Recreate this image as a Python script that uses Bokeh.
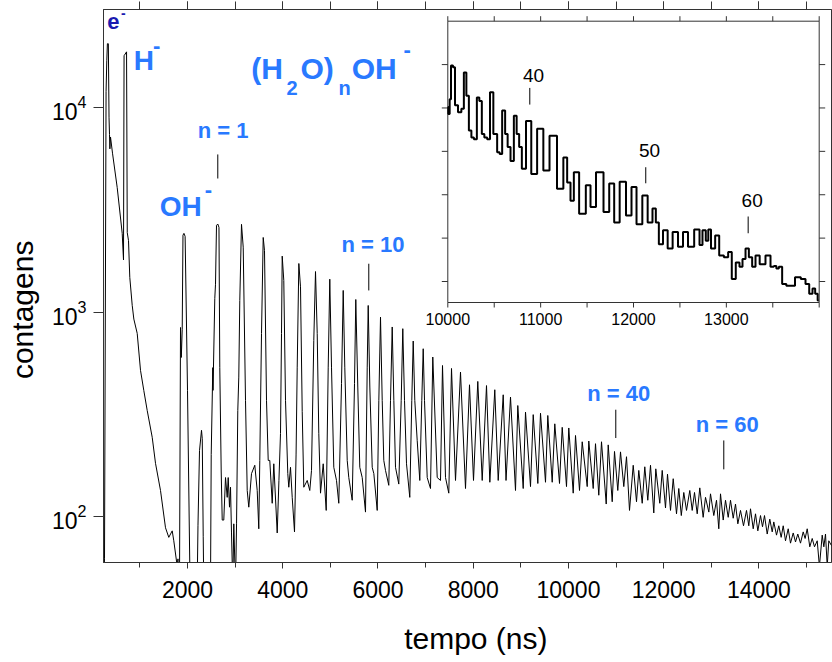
import numpy as np
from bokeh.plotting import figure
from bokeh.models import (Range1d, LinearScale, Label, LinearAxis,
                          SingleIntervalTicker, FixedTicker)
from bokeh.embed import file_html
from bokeh.resources import INLINE
from bokeh.core.properties import value

FONT = "Liberation Sans"
BLUE = "#2979ff"
DARK_BLUE = "#1a1ab0"
NBSP = "\u00a0"

# ---------------- data (time in ns, counts) ----------------
# e- and H- peaks with the electron tail
lead_pts = [(245, 50), (257, 62), (290, 12000), (305, 17000), (318, 20600), (338, 20600),
            (352, 9000), (362, 7400), (370, 6300), (383, 7200), (425, 6000), (524, 4070),
            (629, 2430), (656, 1800), (668, 18000), (720, 18800), (735, 2450), (761, 2240),
            (788, 1480), (839, 1080), (873, 925), (944, 787), (1013, 519), (1082, 414),
            (1154, 330), (1259, 244), (1328, 182), (1433, 134), (1538, 88), (1607, 79),
            (1679, 85), (1712, 76), (1784, 57), (1800, 62), (1815, 45)]

# OH-, small intermediate peak, n = 1 and the noisy floor up to n = 2
ion_pts = [(1832, 45), (1853, 841), (1870, 600), (1889, 820), (1905, 2380), (1925, 2430),
           (1950, 2350), (2000, 414), (2048, 58), (2060, 45), (2203, 45), (2220, 90),
           (2252, 210), (2294, 264), (2310, 240), (2330, 80), (2342, 45), (2400, 45),
           (2483, 45), (2498, 201), (2531, 535), (2536, 414), (2573, 1167), (2588, 1370),
           (2609, 2660), (2636, 2700), (2661, 2600), (2678, 535), (2708, 165), (2729, 96),
           (2762, 96), (2798, 155), (2834, 124), (2855, 155), (2882, 111), (2903, 139),
           (2924, 83), (2951, 45), (2972, 92), (3008, 45), (3030, 92), (3056, 330),
           (3077, 481), (3098, 1140)]

# (H2O)nOH- cluster peak tops, n = 2 ... 82
peak_pts = [(3134, 2690), (3590, 2320), (3989, 1880), (4338, 1730), (4688, 1580),
            (4988, 1450), (5270, 1277), (5534, 1153), (5795, 1078), (6053, 945),
            (6299, 846), (6521, 830), (6740, 722), (6950, 662), (7151, 603),
            (7355, 548), (7544, 530), (7733, 509), (7922, 441), (8096, 458),
            (8279, 437), (8453, 417), (8630, 394), (8783, 384), (8936, 349),
            (9098, 324), (9260, 315), (9413, 320), (9566, 312), (9713, 284),
            (9869, 273), (10007, 271), (10148, 249), (10289, 232), (10427, 234),
            (10568, 227), (10694, 232), (10835, 224), (10967, 208), (11093, 207),
            (11219, 196), (11360, 178), (11477, 168), (11603, 175), (11723, 178),
            (11834, 171), (11969, 168), (12080, 161), (12200, 153), (12317, 137),
            (12422, 131), (12548, 134), (12647, 131), (12758, 138), (12878, 124),
            (12983, 129), (13109, 120), (13193, 129), (13298, 120), (13403, 120),
            (13508, 115), (13613, 107), (13739, 107), (13823, 109), (13928, 103),
            (14033, 101), (14117, 101), (14228, 97), (14312, 94), (14417, 90),
            (14510, 90), (14615, 87), (14720, 83), (14816, 82), (14930, 84),
            (15014, 87), (15119, 78), (15224, 76), (15329, 81), (15398, 82),
            (15467, 76)]

# flanks and valley floor between the cluster peaks
base_pts = [(3170, 2080), (3218, 370), (3254, 134), (3287, 111), (3344, 162), (3413, 178),
            (3464, 134), (3497, 87), (3518, 188), (3554, 786), (3617, 2000), (3659, 370),
            (3695, 188), (3728, 188), (3779, 116), (3812, 181), (3884, 83), (3920, 150),
            (3953, 255), (3974, 786), (4022, 1430), (4058, 370), (4106, 162), (4127, 139),
            (4163, 174), (4199, 124), (4247, 84), (4280, 200), (4304, 538), (4373, 1330),
            (4409, 327), (4442, 139), (4514, 150), (4568, 134), (4604, 168), (4652, 727),
            (4724, 786), (4757, 255), (4793, 130), (4850, 181), (4913, 107), (4955, 538),
            (5024, 538), (5072, 174), (5129, 150), (5177, 116), (5234, 447), (5303, 538),
            (5354, 188), (5387, 155), (5459, 120), (5507, 447), (5576, 430), (5618, 174),
            (5669, 155), (5738, 105), (5774, 538), (5829, 430), (5879, 174), (5913, 162),
            (5984, 107), (6018, 370), (6089, 370), (6122, 188), (6158, 168), (6227, 142),
            (6263, 370), (6333, 370), (6368, 174), (6437, 144), (6488, 370), (6557, 370),
            (6599, 181), (6668, 124), (6710, 370), (6773, 370), (6824, 235), (6878, 150),
            (6920, 370), (6977, 370), (7034, 155), (7103, 137), (7244, 155), (7313, 150),
            (7418, 155), (7487, 130), (7628, 150), (7838, 137), (8006, 150), (8189, 150),
            (8349, 147), (8525, 150), (8689, 150), (8888, 134), (9050, 137), (9203, 140),
            (9357, 145), (9518, 147), (9659, 147), (9812, 145), (9959, 140), (10100, 130),
            (10232, 134), (10394, 140), (10520, 137), (10637, 127), (10793, 115), (10919, 118),
            (11036, 134), (11162, 140), (11282, 107), (11429, 118), (11549, 116), (11666, 120),
            (11792, 104), (11918, 116), (12038, 110), (12143, 107), (12269, 103), (12370, 101),
            (12479, 107), (12599, 107), (12704, 103), (12829, 99), (12948, 105), (13052, 101),
            (13157, 87), (13250, 96), (13355, 99), (13460, 98), (13557, 92), (13676, 90),
            (13787, 90), (13880, 87), (13977, 85), (14075, 89), (14174, 82), (14279, 84),
            (14369, 81), (14467, 79), (14558, 76), (14663, 74), (14768, 75), (14873, 74),
            (14970, 78), (15068, 71), (15167, 71), (15270, 57), (15363, 71), (15434, 57),
            (15524, 72)]

# inset: 10000-14000 ns, linear counts
inset_pts = [(10000, 301), (10011, 293), (10029, 310), (10040, 349), (10072, 347), (10083, 303),
             (10137, 295), (10155, 299), (10191, 341), (10209, 314), (10245, 274), (10263, 266),
             (10299, 264), (10327, 312), (10352, 308), (10381, 270), (10406, 266), (10442, 264),
             (10467, 318), (10514, 270), (10549, 249), (10568, 247), (10603, 297), (10632, 270),
             (10657, 255), (10694, 239), (10729, 291), (10754, 270), (10783, 255), (10812, 230),
             (10872, 285), (10926, 224), (10998, 276), (11060, 228), (11131, 268), (11221, 207),
             (11268, 243), (11303, 214), (11340, 193), (11375, 226), (11454, 178), (11519, 211),
             (11555, 186), (11637, 226), (11717, 180), (11760, 213), (11824, 168), (11878, 215),
             (11960, 176), (11997, 209), (12068, 166), (12122, 199), (12183, 168), (12226, 184),
             (12255, 168), (12291, 143), (12345, 159), (12391, 138), (12452, 157), (12506, 140),
             (12560, 157), (12614, 140), (12693, 160), (12729, 142), (12757, 159), (12800, 147),
             (12811, 160), (12858, 138), (12901, 153), (12945, 130), (13002, 128), (13037, 134),
             (13080, 103), (13123, 122), (13160, 117), (13188, 126), (13225, 138), (13260, 128),
             (13296, 117), (13332, 130), (13386, 120), (13457, 130), (13494, 117), (13529, 118),
             (13548, 115), (13583, 117), (13619, 97), (13673, 95), (13709, 95), (13770, 105),
             (13834, 103), (13871, 97), (13914, 86), (13942, 92), (13971, 86), (13996, 78)]

y_ticks = [100, 1000, 10000]
inset_x_ticks = [10000, 10500, 11000, 11500, 12000, 12500, 13000, 13500, 14000]
inset_x_labels = [10000, 11000, 12000, 13000]
inset_y_ticks = [100, 150, 200, 250, 300, 350]
X_RANGE = (236, 15524)
Y_RANGE = (59.5, 30300)
INSET_X = (10000, 14000)
INSET_Y = (75.8, 400)

# annotation positions
n_text = ["n = 1", "n = 10", "n = 40", "n = 60"]
n_x = [2746, 5896, 11057, 13334]
n_y = [7160, 1982, 370, 261.5]
n_tick_x = [2636, 5807, 10994, 13262]
n_tick_y0 = [4510, 1277, 242, 170]
n_tick_y1 = [5915, 1726, 333, 235.5]

in_text = ["40", "50", "60"]
in_x = [10923, 12172, 13278]
in_y = [329.6, 242.5, 184.9]
in_tick_x = [10883, 12132, 13235]
in_tick_y0 = [303.9, 213.2, 155.6]
in_tick_y1 = [323.1, 231.7, 174.9]

# ---------------- figure ----------------
FRAME_W, FRAME_H = 728, 553
p = figure(width=832, height=662, output_backend="svg", toolbar_location=None,
           x_range=Range1d(*X_RANGE), y_range=Range1d(*Y_RANGE), y_axis_type="log",
           min_border_left=103, min_border_right=1, min_border_top=9, min_border_bottom=100)
p.background_fill_color = "white"
p.border_fill_color = "white"
p.outline_line_color = "#333333"
p.grid.visible = False

PX_DEC = FRAME_H / np.log10(Y_RANGE[1] / Y_RANGE[0])
TXT_LIFT = 7.0  # baseline correction of the text renderer, px


def lift(c, px=TXT_LIFT):
    return c * 10 ** (px / PX_DEC)


# inset coordinate system mapped onto a sub-box of the frame (frame px)
ib_left, ib_right, ib_top, ib_bottom = 344.3, 715.7, 11.7, 293.0
sx = (INSET_X[1] - INSET_X[0]) / (ib_right - ib_left)
sy = (INSET_Y[1] - INSET_Y[0]) / (ib_bottom - ib_top)
ix0 = INSET_X[0] - ib_left * sx
iy1 = INSET_Y[1] + ib_top * sy
p.extra_x_ranges = {"ix": Range1d(ix0, ix0 + FRAME_W * sx)}
p.extra_y_ranges = {"iy": Range1d(iy1 - FRAME_H * sy, iy1)}
p.extra_y_scales = {"iy": LinearScale()}

# axes
for ax in (p.xaxis[0], p.yaxis[0]):
    ax.axis_line_color = "#333333"
    ax.major_tick_line_color = "#333333"
    ax.minor_tick_line_color = "#333333"
    ax.major_tick_in = 0
    ax.minor_tick_in = 0
    ax.major_label_text_font = FONT
    ax.major_label_text_font_size = "23px"
    ax.major_label_text_color = "black"
    ax.axis_label_text_font = FONT
    ax.axis_label_text_font_size = "30px"
    ax.axis_label_text_font_style = "normal"
    ax.axis_label_text_color = "black"
p.xaxis.ticker = SingleIntervalTicker(interval=2000, num_minor_ticks=2)
p.xaxis.major_tick_out = 6
p.xaxis.minor_tick_out = 5
p.xaxis.major_label_standoff = 12
p.xaxis.axis_label = NBSP * 2 + "tempo (ns)"
p.xaxis.axis_label_standoff = 21
p.yaxis.ticker = FixedTicker(ticks=y_ticks, minor_ticks=[])
p.yaxis.major_tick_out = 10
p.yaxis.minor_tick_line_color = None
p.yaxis.major_label_standoff = 7
p.yaxis.axis_label = "contagens" + NBSP * 5 + "\u2009"
p.yaxis.axis_label_standoff = 10

top = LinearAxis(ticker=SingleIntervalTicker(interval=2000, num_minor_ticks=2),
                 major_label_text_font_size="1px", major_label_text_color=None,
                 major_label_standoff=0,
                 major_tick_out=8, minor_tick_out=8, major_tick_in=0, minor_tick_in=0,
                 axis_line_color="#333333", major_tick_line_color="#333333",
                 minor_tick_line_color="#333333")
p.add_layout(top, "above")

# main spectrum
pts = sorted(lead_pts + ion_pts + peak_pts + base_pts)
t = np.array([a for a, _ in pts], dtype=float)
c = np.array([b for _, b in pts], dtype=float)
p.line(t, c, line_color="black", line_width=1)


# annotations on the main spectrum
def lab(x, y, text, size, color=BLUE, bold=True, align="left", **kw):
    p.add_layout(Label(x=x, y=y, text=text, text_font=FONT, text_font_size=f"{size}px",
                       text_font_style="bold" if bold else "normal", text_color=color,
                       text_align=align, text_baseline="alphabetic", **kw))


lab(314, lift(24470), "e", 22, DARK_BLUE)
lab(650, lift(28300, 3), "-", 14, DARK_BLUE, align="center")
lab(872, lift(15820), "H", 28)
lab(1355, lift(18750), "-", 22, align="center")
lab(1418, lift(2970, 9), "OH", 28)
lab(2437, lift(3594, 9), "-", 22, align="center")
lab(3338, lift(14410), "(H", 30)
lab(4079, lift(11500), "2", 20)
lab(4373, lift(14410), "O)", 30)
lab(5171, lift(11500), "n", 20)
lab(5449, lift(14410), "OH", 30)
lab(6614, lift(17740), "-", 22, align="center")
for tx, x, y in zip(n_text, n_x, n_y):
    lab(x, lift(y), tx, 22, align="center")
p.segment(x0=n_tick_x, y0=n_tick_y0, x1=n_tick_x, y1=n_tick_y1, line_color="black", line_width=1)

# ---------------- inset ----------------
INS = dict(x_range_name="ix", y_range_name="iy")
p.quad(left=[INSET_X[0]], right=[INSET_X[1]], bottom=[INSET_Y[0]], top=[INSET_Y[1]],
       fill_color="white", line_color="#333333", line_width=1, **INS)
tk = 5.0
p.segment(x0=inset_x_ticks, x1=inset_x_ticks, y0=[INSET_Y[0]] * len(inset_x_ticks),
          y1=[INSET_Y[0] - tk * sy] * len(inset_x_ticks), line_color="#333333", **INS)
p.segment(x0=inset_x_ticks, x1=inset_x_ticks, y0=[INSET_Y[1]] * len(inset_x_ticks),
          y1=[INSET_Y[1] + tk * sy] * len(inset_x_ticks), line_color="#333333", **INS)
p.segment(x0=[INSET_X[0]] * len(inset_y_ticks), x1=[INSET_X[0] - 6 * sx] * len(inset_y_ticks),
          y0=inset_y_ticks, y1=inset_y_ticks, line_color="#333333", **INS)
p.segment(x0=[INSET_X[1]] * len(inset_y_ticks), x1=[INSET_X[1] + 6 * sx] * len(inset_y_ticks),
          y0=inset_y_ticks, y1=inset_y_ticks, line_color="#333333", **INS)
lab_y = INSET_Y[0] - (23 - TXT_LIFT) * sy
p.text(x=inset_x_labels, y=[lab_y] * len(inset_x_labels),
       text=[str(v) for v in inset_x_labels], text_font=value(FONT), text_font_size="16px",
       text_align="center", text_baseline="alphabetic", text_color="black", **INS)

it = [a for a, _ in inset_pts]
iv = [b for _, b in inset_pts]
p.step(it, iv, mode="center", line_color="black", line_width=2, **INS)

p.text(x=in_x, y=[v + TXT_LIFT * sy for v in in_y], text=in_text, text_font=value(FONT),
       text_font_size="19px", text_align="center", text_baseline="alphabetic",
       text_color="black", **INS)
p.segment(x0=in_tick_x, x1=in_tick_x, y0=in_tick_y0, y1=in_tick_y1, line_color="black", **INS)

open("out.html", "w").write(file_html(p, INLINE))
